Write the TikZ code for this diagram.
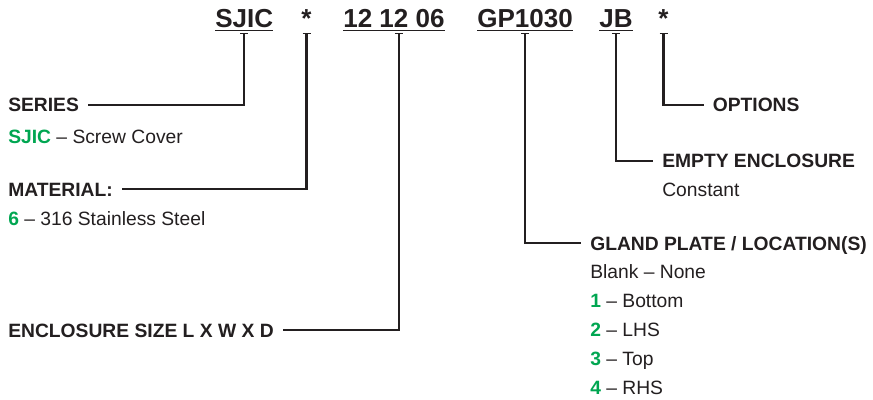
\documentclass[tikz,border=0pt]{standalone}
\usepackage{fontspec}
\setmainfont{Liberation Sans}
\usetikzlibrary{arrows.meta}
\definecolor{ink}{HTML}{231F20}
\definecolor{codegreen}{HTML}{00A651}
\tikzstyle{code} = [inner sep=0pt, text depth=0pt, text=ink, font=\fontsize{18.5pt}{22pt}\selectfont\bfseries]
\tikzstyle{head} = [inner sep=0pt, anchor=base west, text height=0.35cm, text depth=0pt, text=ink, font=\fontsize{13.7pt}{16pt}\selectfont\bfseries]
\tikzstyle{desc} = [inner sep=0pt, anchor=base west, text=ink, font=\fontsize{13.7pt}{16pt}\selectfont]
\tikzstyle{lead} = [{Bar[width=0.2cm,line width=0.9pt]}-, line width=1.7pt, draw=ink, shorten <=0.13cm, shorten >=0.225cm]
\tikzstyle{uline} = [line width=0.9pt, draw=ink]
\newcommand{\rowstep}{28.8}
\newcommand{\gr}[1]{{\color{codegreen}\bfseries #1}}

\begin{document}
\begin{tikzpicture}[x=0.025cm, y=-0.025cm]
  \useasboundingbox (0,0) rectangle (873,400);

  % Part number
  \node [code, anchor=base west] (sjic) at (215,27.3) {SJIC};
  \node [code, anchor=base] (mat) at (306.5,27.3) {*};
  \node [code, anchor=base west] (size) at (343,27.3) {12 12 06};
  \node [code, anchor=base west] (plate) at (477,27.3) {GP1030};
  \node [code, anchor=base west] (jb) at (599,27.3) {JB};
  \node [code, anchor=base] (opt) at (663.5,27.3) {*};

  \foreach \n in {sjic,size,plate,jb}
    \draw [uline] ([yshift=-0.085cm]\n.base west) -- ([yshift=-0.085cm]\n.base east);

  % Series
  \node [head] (series) at (8,112) {SERIES};
  \node [desc] (seriesA) at (8,144) {\gr{SJIC} – Screw Cover};

  % Material
  \node [head] (material) at (8,196) {MATERIAL:};
  \node [desc] (materialA) at (8,225) {\gr{6} – 316 Stainless Steel};

  % Enclosure size
  \node [head] (encsize) at (8,337) {ENCLOSURE SIZE L X W X D};

  % Gland plate
  \node [head] (gland) at (590,250) {GLAND PLATE / LOCATION(S)};
  \node [desc] (glandA) at (590,{250+\rowstep}) {Blank – None};
  \node [desc] (glandB) at (590,{250+2*\rowstep}) {\gr{1} – Bottom};
  \node [desc] (glandC) at (590,{250+3*\rowstep}) {\gr{2} – LHS};
  \node [desc] (glandD) at (590,{250+4*\rowstep}) {\gr{3} – Top};
  \node [desc] (glandE) at (590,{250+5*\rowstep}) {\gr{4} – RHS};

  % Empty enclosure
  \node [head] (empty) at (662,168) {EMPTY ENCLOSURE};
  \node [desc] (emptyA) at (662,196) {Constant};

  % Options
  \node [head] (options) at (712.5,112) {OPTIONS};

  % Leaders
  \draw [lead] (sjic.south) |- (series);
  \draw [lead] (mat.south) |- (material);
  \draw [lead] ([xshift=3.5]size.south) |- (encsize);
  \draw [lead] (plate.south) |- (gland);
  \draw [lead] (jb.south) |- (empty);
  \draw [lead] (opt.south) |- (options);

\end{tikzpicture}
\end{document}
